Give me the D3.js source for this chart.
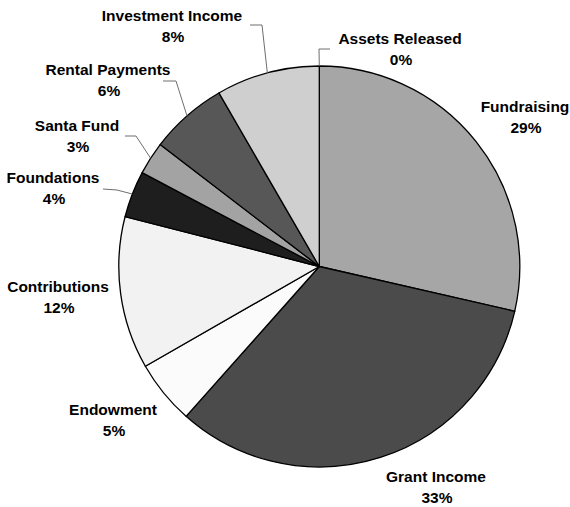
<!DOCTYPE html>
<html>
<head>
<meta charset="utf-8">
<script src="https://cdn.jsdelivr.net/npm/d3@7"></script>
<style>
  html, body { margin: 0; padding: 0; background: #fff; }
  svg { display: block; }
  text { font-family: "Liberation Sans", Arial, sans-serif; font-weight: bold; font-size: 15.5px; fill: #000; }
</style>
</head>
<body>
<svg id="chart" width="570" height="507"></svg>
<script>
// ---- data ----
const categories = ["Assets Released", "Fundraising", "Grant Income", "Endowment", "Contributions",
                    "Foundations", "Santa Fund", "Rental Payments", "Investment Income"];
const values = [0, 28.6, 33.0, 5.15, 12.3, 3.75, 2.65, 6.25, 8.35];
const pctLabels = ["0%", "29%", "33%", "5%", "12%", "4%", "3%", "6%", "8%"];
const colors = ["#b0b0b0", "#a6a6a6", "#4b4b4b", "#fbfbfb", "#f2f2f2", "#1e1e1e", "#a3a3a3", "#575757", "#cfcfcf"];

// ---- layout (label placement) ----
const labelPos = [
  {x: 400, y: 44, leader: [[330, 49], [319, 49]]},
  {x: 525, y: 112, leader: null},
  {x: 436, y: 482, leader: null},
  {x: 113, y: 415, leader: null},
  {x: 58,  y: 292, leader: null},
  {x: 53,  y: 183, leader: [[103, 189], [117, 190]]},
  {x: 77,  y: 131, leader: [[125, 136], [136, 136]]},
  {x: 108, y: 75,  leader: [[163, 81], [176, 81]]},
  {x: 172, y: 21,  leader: [[250, 25], [262, 25]]}
];

const cx = 319.3, cy = 266.5, R = 200.5;
const svg = d3.select("#chart");
const g = svg.append("g").attr("transform", `translate(${cx},${cy})`);

const pie = d3.pie().sort(null).value(d => d.v).startAngle(0).endAngle(2 * Math.PI);
const data = categories.map((c, i) => ({c, v: values[i], i}));
const arcs = pie(data);
const arc = d3.arc().innerRadius(0).outerRadius(R);

g.selectAll("path.slice")
  .data(arcs)
  .enter().append("path")
  .attr("class", "slice")
  .attr("d", arc)
  .attr("fill", d => colors[d.data.i])
  .attr("stroke", "#000")
  .attr("stroke-width", 1.3)
  .attr("stroke-linejoin", "round");

// leader lines
arcs.forEach(a => {
  const lp = labelPos[a.data.i];
  if (!lp.leader) return;
  const mid = (a.startAngle + a.endAngle) / 2;
  const ex = cx + R * Math.sin(mid), ey = cy - R * Math.cos(mid);
  const pts = lp.leader.concat([[ex, ey]]);
  svg.append("path")
    .attr("d", d3.line()(pts))
    .attr("fill", "none")
    .attr("stroke", "#6e6e6e")
    .attr("stroke-width", 1);
});

// labels
arcs.forEach(a => {
  const lp = labelPos[a.data.i];
  const t = svg.append("text")
    .attr("text-anchor", "middle")
    .attr("x", lp.x).attr("y", lp.y);
  t.append("tspan").attr("x", lp.x).text(categories[a.data.i]);
  t.append("tspan").attr("x", lp.x + 1).attr("dy", 21).text(pctLabels[a.data.i]);
});
</script>
</body>
</html>
